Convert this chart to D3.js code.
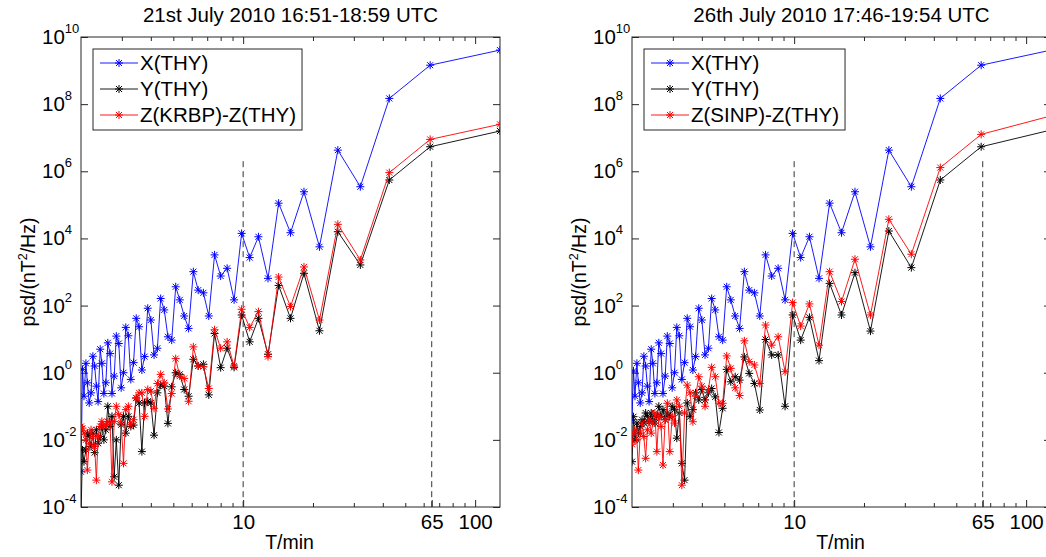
<!DOCTYPE html>
<html>
<head>
<meta charset="utf-8">
<script src="https://cdn.jsdelivr.net/npm/d3@7"></script>
<style>
  body { margin: 0; background: #fff; }
  text { font-family: "Liberation Sans", Arial, sans-serif; fill: #000; }
</style>
</head>
<body>
<svg id="chart" width="1046" height="557"></svg>
<script>
// periods of the 64 spectral lines (min), 128 min window
const periods = [128, 64, 42.67, 32, 25.6, 21.33, 18.29, 16, 14.22, 12.8,
    11.64, 10.67, 9.85, 9.14, 8.53, 8, 7.53, 7.11, 6.74, 6.4,
    6.1, 5.82, 5.57, 5.33, 5.12, 4.92, 4.74, 4.57, 4.41, 4.27,
    4.13, 4, 3.88, 3.76, 3.66, 3.56, 3.46, 3.37, 3.28, 3.2,
    3.12, 3.05, 2.98, 2.91, 2.84, 2.78, 2.72, 2.67, 2.61, 2.56,
    2.51, 2.46, 2.42, 2.37, 2.33, 2.29, 2.25, 2.21, 2.17, 2.13,
    2.1, 2.06, 2.03, 2];

// log10(psd), same order as periods
const xThy21 = [9.61, 9.16, 8.17, 5.54, 6.63, 3.75, 5.39, 4.17, 5.05, 2.81,
    4.05, 3.43, 4.15, 2.17, 3.11, 2.88, 3.51, 1.69, 2.38, 2.46,
    3.01, 1.32, 1.69, 2.17, 2.56, 0.97, 1.07, 1.87, 2.21, 0.73,
    0.53, 1.57, 1.92, 0.48, 0.08, 1.37, 1.62, 0.30, -0.20, 1.10,
    1.35, 0.00, -0.45, 0.87, 1.09, -0.10, -0.62, 0.57, 0.89, -0.30,
    -0.62, 0.28, 0.70, -0.86, -0.40, 0.20, 0.49, -0.60, -0.90, -0.30,
    0.28, -0.70, 0.10, -2.95];
const yThy21 = [7.20, 6.73, 5.74, 3.21, 4.20, 1.25, 2.96, 1.62, 2.60, 0.55,
    1.62, 0.92, 1.72, 0.16, 0.73, 0.15, 1.17, -0.66, 0.25, 0.20,
    0.40, -0.70, -0.50, -0.05, 0.00, -0.42, -1.51, -0.40, -0.37, -0.60,
    -1.86, -0.90, -0.85, -0.90, -2.35, -0.90, -0.75, -1.56, -1.60, -1.30,
    -1.80, -1.30, -1.55, -3.35, -2.00, -3.10, -1.30, -1.60, -1.00, -1.70,
    -2.00, -1.60, -1.90, -2.10, -1.70, -2.38, -1.80, -2.20, -1.90, -1.80,
    -2.30, -2.65, -2.30, -4.30];
const zKrbp21 = [7.40, 6.95, 5.96, 3.36, 4.42, 1.57, 3.15, 1.97, 2.85, 0.48,
    1.82, 1.35, 1.89, 0.20, 0.92, 0.73, 1.28, -0.47, 0.18, 0.20,
    0.77, -0.85, -0.17, -0.10, 0.42, -0.62, -1.08, -0.30, -0.05, -0.32,
    -1.06, -0.55, -0.50, -1.30, -0.60, -0.60, -0.76, -1.40, -1.55, -1.00,
    -1.10, -2.70, -1.50, -1.25, -1.00, -1.45, -3.25, -1.50, -1.46, -1.55,
    -1.60, -1.45, -1.60, -1.90, -3.20, -2.20, -1.90, -1.70, -2.10, -2.90,
    -2.00, -1.80, -1.65, -1.60];

const xThy26 = [9.61, 9.16, 8.17, 5.54, 6.63, 3.75, 5.39, 4.17, 5.05, 2.81,
    4.05, 3.43, 4.15, 2.17, 3.11, 2.88, 3.51, 1.69, 2.38, 2.46,
    3.01, 1.32, 1.69, 2.17, 2.56, 0.97, 1.07, 1.87, 2.21, 0.73,
    0.53, 1.57, 1.92, 0.48, 0.08, 1.37, 1.62, 0.30, -0.20, 1.10,
    1.35, 0.00, -0.45, 0.87, 1.09, -0.10, -0.62, 0.57, 0.89, -0.30,
    -0.62, 0.28, 0.70, -0.86, -0.40, 0.20, 0.49, -0.60, -0.90, -0.30,
    0.28, -0.70, 0.05, -1.40];
const yThy26 = [7.23, 6.73, 5.74, 3.13, 4.22, 1.24, 2.98, 1.72, 2.66, 0.36,
    1.65, 0.97, 1.72, -1.00, 0.53, 0.53, 0.99, -1.11, -0.32, -0.02,
    0.47, -0.22, -0.12, -0.27, 0.10, -1.06, -1.78, -0.72, -0.47, -0.60,
    -0.81, -0.50, -0.81, -0.60, -1.10, -1.31, -0.90, -3.20, -2.70, -1.20,
    -1.95, -1.10, -1.00, -1.31, -1.20, -1.40, -1.10, -1.30, -1.00, -1.30,
    -1.50, -1.40, -1.20, -1.46, -1.30, -1.20, -1.50, -1.40, -1.60, -1.80,
    -1.50, -2.00, -1.31, -2.65];
const zSinp26 = [7.65, 7.10, 6.11, 3.53, 4.57, 1.72, 3.38, 2.12, 3.01, 0.82,
    2.05, 1.39, 2.09, 0.03, 1.07, 0.82, 1.42, -0.32, 0.23, 0.33,
    0.95, -0.68, -0.45, 0.13, 0.50, -0.91, -0.91, -0.12, 0.16, -0.50,
    -1.00, -0.40, -0.12, -0.70, -1.46, -0.60, -0.37, -1.20, -3.35, -1.00,
    -0.81, -1.50, -1.30, -2.35, -0.91, -1.40, -2.75, -1.60, -1.30, -2.35,
    -1.20, -1.50, -1.80, -1.40, -1.70, -2.55, -1.90, -1.50, -1.80, -2.90,
    -2.00, -1.70, -1.80, -2.13];

const yTicks = [1e-4, 1e-2, 1, 1e2, 1e4, 1e6, 1e8, 1e10];
const xMajor = [10, 65, 100];
const xMinor = [3, 4, 5, 6, 7, 8, 9, 20, 30, 40, 50, 60, 70, 80, 90];
const guidePeriods = [10, 65];

const svg = d3.select('#chart');
svg.append('rect').attr('width', 1046).attr('height', 557).attr('fill', '#fff');

const axisColor = '#262626';
const starPath = 'M-4,0H4M0,-4V4M-3,-3L3,3M-3,3L3,-3';

function drawPanel(left, idx, title, series) {
    const top = 37, bottom = 507, width = 419;
    const x = d3.scaleLog().domain([2, 128]).range([left, left + width]);
    const y = d3.scaleLog().domain([1e-4, 1e10]).range([bottom, top]);
    const g = svg.append('g');

    g.append('clipPath').attr('id', 'clip' + idx)
        .append('rect')
        .attr('x', left).attr('y', top)
        .attr('width', width).attr('height', bottom - top);

    // axes, ticks pointing inwards like matlab
    const styleAxis = sel => {
        sel.select('.domain').remove();
        sel.selectAll('line').attr('stroke', axisColor);
        sel.attr('font-size', null).attr('font-family', null);
    };
    g.append('g').attr('transform', `translate(0,${bottom})`)
        .call(d3.axisBottom(x).tickValues(xMinor).tickSize(-4).tickFormat(() => ''))
        .call(styleAxis);
    g.append('g').attr('transform', `translate(0,${top})`)
        .call(d3.axisTop(x).tickValues(xMinor).tickSize(-4).tickFormat(() => ''))
        .call(styleAxis);
    g.append('g').attr('transform', `translate(0,${top})`)
        .call(d3.axisTop(x).tickValues([10, 100]).tickSize(-7).tickFormat(() => ''))
        .call(styleAxis);
    g.append('g').attr('transform', `translate(0,${bottom})`)
        .call(d3.axisBottom(x).tickValues(xMajor).tickSize(-7).tickPadding(7).tickFormat(d => d))
        .call(styleAxis)
        .selectAll('text').attr('font-size', '20.5px');

    const yl = g.append('g').attr('transform', `translate(${left},0)`)
        .call(d3.axisLeft(y).tickValues(yTicks).tickSize(-7).tickFormat(() => ''))
        .call(styleAxis);
    yl.selectAll('.tick text').each(function (d) {
        const t = d3.select(this)
            .attr('x', -39).attr('text-anchor', 'start')
            .attr('font-size', '20.5px').attr('dy', '0.32em');
        t.append('tspan').text('10');
        t.append('tspan').attr('dy', '-11').attr('font-size', '13px')
            .text(Math.round(Math.log10(d)));
    });
    g.append('g').attr('transform', `translate(${left + width},0)`)
        .call(d3.axisRight(y).tickValues(yTicks).tickSize(-7).tickFormat(() => ''))
        .call(styleAxis);

    g.append('rect')
        .attr('x', left).attr('y', top)
        .attr('width', width).attr('height', bottom - top)
        .attr('fill', 'none').attr('stroke', axisColor).attr('stroke-width', 1);

    // dashed guides at 10 and 65 min
    g.append('g').selectAll('line')
        .data(guidePeriods)
        .join('line')
        .attr('x1', d => x(d)).attr('x2', d => x(d))
        .attr('y1', y(2e6)).attr('y2', y(1e-4))
        .attr('stroke', '#333').attr('stroke-width', 1)
        .attr('stroke-dasharray', '6,4');

    const line = d3.line().x(d => x(d.t)).y(d => y(d.v));
    const plot = g.append('g').attr('clip-path', `url(#clip${idx})`);
    series.forEach(s => {
        const pts = periods.map((t, i) => ({ t: t, v: Math.pow(10, s.values[i]) }));
        plot.append('path')
            .datum(pts)
            .attr('fill', 'none')
            .attr('stroke', s.color)
            .attr('stroke-width', 0.9)
            .attr('d', line);
        plot.append('g').selectAll('path')
            .data(pts)
            .join('path')
            .attr('transform', d => `translate(${x(d.t)},${y(d.v)})`)
            .attr('d', starPath)
            .attr('stroke', s.color)
            .attr('stroke-width', 1);
    });

    // legend
    const lg = g.append('g').attr('transform', `translate(${left + 12},49)`);
    const box = lg.append('rect')
        .attr('height', 81)
        .attr('fill', '#fff').attr('stroke', axisColor).attr('stroke-width', 1);
    let maxLen = 0;
    series.forEach((s, i) => {
        const ry = 14 + i * 26;
        lg.append('line')
            .attr('x1', 7).attr('x2', 45).attr('y1', ry).attr('y2', ry)
            .attr('stroke', s.color).attr('stroke-width', 0.9);
        lg.append('path')
            .attr('transform', `translate(26,${ry})`)
            .attr('d', starPath).attr('stroke', s.color);
        const txt = lg.append('text')
            .attr('x', 47).attr('y', ry + 7)
            .attr('font-size', '20.5px')
            .text(s.name);
        maxLen = Math.max(maxLen, txt.node().getComputedTextLength());
    });
    box.attr('width', 47 + maxLen + 6);

    // labels
    g.append('text')
        .attr('x', left + width / 2).attr('y', 22)
        .attr('text-anchor', 'middle').attr('font-size', '20.5px')
        .text(title);
    g.append('text')
        .attr('x', left + width / 2 - 1).attr('y', 549)
        .attr('text-anchor', 'middle').attr('font-size', '19.5px')
        .text('T/min');
    const ylab = g.append('text')
        .attr('transform', `translate(${left - 46},272) rotate(-90)`)
        .attr('text-anchor', 'middle').attr('font-size', '19.5px');
    ylab.append('tspan').text('psd/(nT');
    ylab.append('tspan').attr('dy', -8).attr('font-size', '12.5px').text('2');
    ylab.append('tspan').attr('dy', 8).text('/Hz)');
}

drawPanel(81, 1, '21st July 2010 16:51-18:59 UTC', [
    { name: 'X(THY)', color: '#0000ff', values: xThy21 },
    { name: 'Y(THY)', color: '#000000', values: yThy21 },
    { name: 'Z(KRBP)-Z(THY)', color: '#ff0000', values: zKrbp21 }
]);
drawPanel(632, 2, '26th July 2010 17:46-19:54 UTC', [
    { name: 'X(THY)', color: '#0000ff', values: xThy26 },
    { name: 'Y(THY)', color: '#000000', values: yThy26 },
    { name: 'Z(SINP)-Z(THY)', color: '#ff0000', values: zSinp26 }
]);
</script>
</body>
</html>
